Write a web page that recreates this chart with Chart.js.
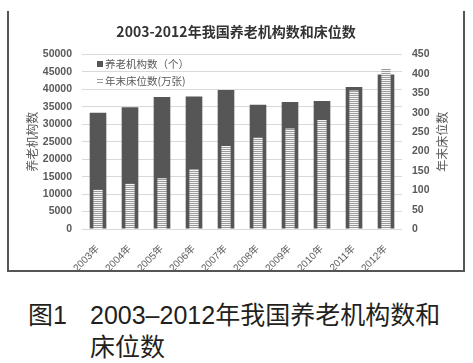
<!DOCTYPE html>
<html>
<head>
<meta charset="utf-8">
<script src="https://cdn.jsdelivr.net/npm/chart.js@4/dist/chart.umd.min.js"></script>
<style>
  body { margin: 0; background: #fff; width: 473px; height: 363px; overflow: hidden; position: relative; }
  #frame { position: absolute; left: 7px; top: 11px; width: 454px; height: 259px;
           border: 2px solid #555; border-top: none; }
  #chart { display: block; }
  #caption { position: absolute; left: 90px; top: 299px; width: 380px;
             font-family: "Liberation Sans", "Noto Sans CJK SC", sans-serif;
             font-size: 25px; line-height: 32px; color: #231f20; }
  #caption .num { position: absolute; left: -62px; top: 0; }
</style>
</head>
<body>
<div id="frame"><canvas id="chart" width="454" height="259"></canvas></div>
<div id="caption"><span class="num">图1</span>2003–2012年我国养老机构数和<br>床位数</div>

<script>
// Chart data
const years = ['2003年', '2004年', '2005年', '2006年', '2007年', '2008年', '2009年', '2010年', '2011年', '2012年'];
const institutions = [33300, 34900, 37800, 38000, 39800, 35600, 36400, 36700, 40700, 44300];
const beds = [101, 117, 131, 155, 214, 236, 259, 281, 357, 413];

const leftTicksMax = 50000;
const rightTicksMax = 450;

const labelColor = '#595959';
const darkBar = '#565656';

// Horizontal stripes for the bed bars
function makeStripes() {
    const c = document.createElement('canvas');
    c.width = 4;
    c.height = 2;
    const g = c.getContext('2d');
    g.fillStyle = '#f4f4f4';
    g.fillRect(0, 0, 4, 2);
    g.fillStyle = '#9c9c9c';
    g.fillRect(0, 0, 4, 1);
    return g.createPattern(c, 'repeat');
}

const stripes = makeStripes();

// Legend drawn inside the plot area, plus the right axis title (reads bottom to top)
const extrasPlugin = {
    id: 'extras',
    afterDraw(chart) {
        const ctx = chart.ctx;
        const area = chart.chartArea;
        ctx.save();
        ctx.font = '10.5px "Noto Sans CJK SC", sans-serif';
        ctx.textBaseline = 'middle';
        ctx.textAlign = 'left';

        const mx = area.left + 15;
        const tx = area.left + 23;
        const rows = [area.top + 9.5, area.top + 26.5];

        chart.data.datasets.forEach((ds, i) => {
            const y = rows[i];
            if (i === 0) {
                ctx.fillStyle = ds.backgroundColor;
                ctx.fillRect(mx, y - 3, 6, 6);
            } else {
                ctx.fillStyle = '#9c9c9c';
                ctx.fillRect(mx, y - 2, 6, 1);
                ctx.fillRect(mx, y + 1, 6, 1);
            }
            ctx.fillStyle = labelColor;
            ctx.fillText(ds.label, tx, y);
        });

        // right axis title
        ctx.font = '12px "Noto Sans CJK SC", sans-serif';
        ctx.textAlign = 'center';
        ctx.translate(433, (area.top + area.bottom) / 2);
        ctx.rotate(-Math.PI / 2);
        ctx.fillText('年末床位数', 0, 0);
        ctx.restore();
    }
};

const ctx = document.getElementById('chart').getContext('2d');

new Chart(ctx, {
    type: 'bar',
    data: {
        labels: years,
        datasets: [
            {
                label: '养老机构数（个）',
                data: institutions,
                backgroundColor: darkBar,
                yAxisID: 'y',
                grouped: false,
                order: 1,
                barPercentage: 0.52,
                categoryPercentage: 1
            },
            {
                label: '年末床位数(万张)',
                data: beds,
                backgroundColor: stripes,
                yAxisID: 'y1',
                grouped: false,
                order: 0,
                barPercentage: 0.29,
                categoryPercentage: 1
            }
        ]
    },
    options: {
        responsive: false,
        animation: false,
        layout: { padding: 0 },
        plugins: {
            legend: { display: false },
            tooltip: { enabled: false },
            title: {
                display: true,
                text: '2003-2012年我国养老机构数和床位数',
                color: '#333',
                font: { size: 14, weight: 'bold', family: '"Noto Sans CJK SC", sans-serif' },
                padding: { top: 12.6, bottom: 14.1 }
            }
        },
        scales: {
            x: {
                grid: { display: false },
                border: { display: false },
                ticks: {
                    color: labelColor,
                    font: { size: 10, family: '"Liberation Sans", "Noto Sans CJK SC", sans-serif' },
                    minRotation: 45,
                    maxRotation: 45,
                    padding: 6
                },
                afterFit(scale) { scale.height = 41; }
            },
            y: {
                position: 'left',
                min: 0,
                max: leftTicksMax,
                border: { display: false },
                grid: { color: '#d9d9d9', drawTicks: false },
                ticks: {
                    stepSize: 5000,
                    color: labelColor,
                    padding: 10,
                    font: { size: 10.5, weight: 'bold', family: '"Liberation Sans", sans-serif' },
                    callback: (v) => String(v)
                },
                title: {
                    display: true,
                    text: '养老机构数',
                    color: labelColor,
                    font: { size: 12, family: '"Noto Sans CJK SC", sans-serif' },
                    padding: { top: 16, bottom: 0 }
                },
                afterFit(scale) { scale.width = 73; }
            },
            y1: {
                position: 'right',
                min: 0,
                max: rightTicksMax,
                border: { display: false },
                grid: { display: false, drawTicks: false },
                ticks: {
                    stepSize: 50,
                    color: labelColor,
                    padding: 10,
                    font: { size: 10.5, weight: 'bold', family: '"Liberation Sans", sans-serif' },
                    callback: (v) => String(v)
                },
                afterFit(scale) { scale.width = 61; }
            }
        }
    },
    plugins: [extrasPlugin]
});
</script>
</body>
</html>
